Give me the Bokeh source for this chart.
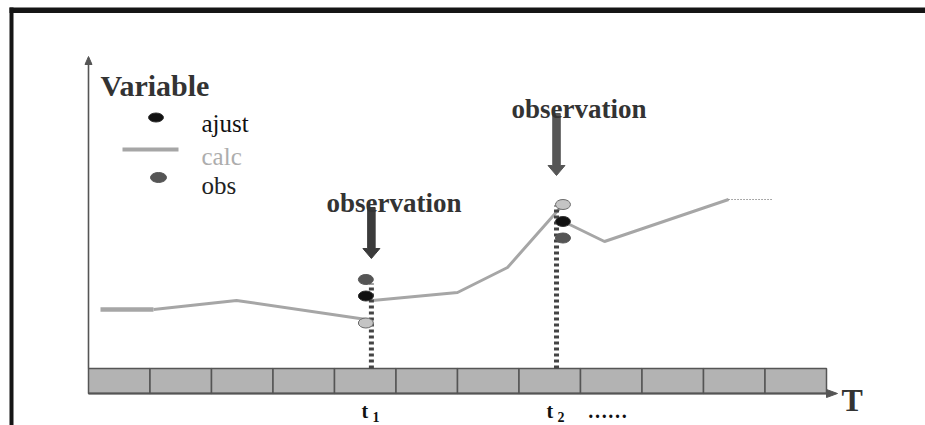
from bokeh.plotting import figure
from bokeh.models import Range1d, Label
from bokeh.embed import file_html
from bokeh.resources import INLINE
from bokeh.core.properties import value

# ---------------- data ----------------
cells = list(range(13))                      # time-cell boundaries along T
obs_times = [4.60, 7.61]                      # observation instants t1, t2
obs_line_tops = [87, 165]                     # top of the dotted drop lines
point_times = [4.51, 7.715]                   # where the three markers sit
ajust_vals = [74.5, 149]
obs_vals = [91, 132.5]
calc_pt_vals = [47.5, 166]
calc_seg1_t = [0.195, 1.057, 2.407, 4.52]
calc_seg1_v = [61, 61, 70, 51]
calc_seg2_t = [4.618, 6.0, 6.813, 7.675]
calc_seg2_v = [70, 78, 103, 163]
calc_seg3_t = [7.756, 8.39, 10.407]
calc_seg3_v = [148, 129, 171]
calc_cont_t = [10.407, 11.138]
calc_cont_v = [171, 171]
tick_main = ["t", "t"]
tick_sub = ["1", "2"]
arrow_tips = [112, 195]
arrow_lengths = [51, 62]
arrow_colors = ["#3b3b3b", "#565656"]

# ------------- layout helpers (page pixel -> data) -------------
PX0, CELL, BASE = 88.0, 61.5, 370.0
def X(px):
    return (px - PX0) / CELL
def Y(py):
    return BASE - py

SERIF = "'Liberation Serif', 'Times New Roman', serif"

p = figure(width=925, height=425,
           x_range=Range1d(X(0), X(925)), y_range=Range1d(Y(425), Y(0)),
           output_backend="svg", toolbar_location=None, min_border=0,
           x_axis_type=None, y_axis_type=None)
p.grid.visible = False
p.outline_line_color = None
p.background_fill_color = "white"
p.border_fill_color = "white"

# frame border
p.quad(left=[X(9)], right=[X(925)], bottom=[Y(12.5)], top=[Y(7)],
       fill_color="#151515", line_color=None)
p.quad(left=[X(9)], right=[X(13)], bottom=[Y(425)], top=[Y(7)],
       fill_color="#151515", line_color=None)

# time bar
p.quad(left=cells[:-1], right=cells[1:], bottom=Y(393), top=Y(368),
       fill_color="#b3b3b3", line_color="#555555", line_width=1.5)
# T axis arrow along bottom of bar
p.line([cells[0], X(829)], [Y(393), Y(393)], line_color="#555555", line_width=2)
p.patch([X(826), X(837), X(826)], [Y(389), Y(393), Y(397)],
        fill_color="#555555", line_color="#555555")
# vertical Variable axis
p.line([0, 0], [Y(368), Y(62)], line_color="#555555", line_width=1.6)
p.patch([X(84.5), X(88), X(91.5)], [Y(64), Y(56), Y(64)],
        fill_color="#555555", line_color="#555555")

# calc line
p.line(calc_seg1_t[:2], calc_seg1_v[:2], line_color="#a6a6a6", line_width=4.5)
p.line(calc_seg1_t[1:], calc_seg1_v[1:], line_color="#a6a6a6", line_width=3)
p.line(calc_seg2_t, calc_seg2_v, line_color="#a6a6a6", line_width=3)
p.line(calc_seg3_t, calc_seg3_v, line_color="#a6a6a6", line_width=3)
p.line(calc_cont_t, calc_cont_v, line_color="#555555", line_width=1.2,
       line_dash="1 2")

# dotted drop lines
p.segment(x0=obs_times, y0=[Y(368)] * 2, x1=obs_times, y1=obs_line_tops,
          line_color="#444444", line_width=5, line_dash="3 3")

# markers
p.ellipse(x=point_times, y=calc_pt_vals, width=15, height=10,
          width_units="screen", height_units="screen",
          fill_color="#c4c4c4", line_color="#6a6a6a", line_width=1)
p.ellipse(x=point_times, y=ajust_vals, width=15, height=10,
          width_units="screen", height_units="screen",
          fill_color="#111111", line_color="#333333", line_width=1)
p.ellipse(x=point_times, y=obs_vals, width=15, height=10,
          width_units="screen", height_units="screen",
          fill_color="#555555", line_color="#555555", line_width=1)

# observation arrows + labels
hw, hh = 3.75 / CELL, 8.5 / CELL
for t, tip, ln, col in zip(obs_times, arrow_tips, arrow_lengths, arrow_colors):
    top = tip + ln
    neck = tip + 10
    p.patch([t - hw, t + hw, t + hw, t + hh, t, t - hh, t - hw],
            [top, top, neck, neck, tip, neck, neck],
            fill_color=col, line_color=col)
    p.add_layout(Label(x=t - 45 / CELL, y=top + 5, text="observation",
                       text_font=SERIF, text_font_size="27px",
                       text_font_style="bold", text_color="#333333",
                       text_baseline="alphabetic"))

# tick labels t1, t2
p.text(x=obs_times, y=Y(410), text=tick_main, x_offset=-10,
       text_font=value(SERIF), text_font_size="20px", text_font_style="bold",
       text_color="#111111", text_baseline="alphabetic", text_align="left")
p.text(x=obs_times, y=Y(416), text=tick_sub, x_offset=1,
       text_font=value(SERIF), text_font_size="14px", text_font_style="bold",
       text_color="#111111", text_baseline="alphabetic", text_align="left")
p.add_layout(Label(x=X(587), y=Y(410), text="……", text_font=SERIF,
                   text_font_size="20px", text_font_style="bold",
                   text_color="#111111", text_baseline="alphabetic"))

# axis titles
p.add_layout(Label(x=X(100), y=Y(85), text="Variable", text_font=SERIF,
                   text_font_size="30px", text_font_style="bold",
                   text_color="#333333", text_baseline="alphabetic"))
p.add_layout(Label(x=X(841), y=Y(399), text="T", text_font=SERIF,
                   text_font_size="32px", text_font_style="bold",
                   text_color="#333333", text_baseline="alphabetic"))

# legend (drawn by hand)
p.ellipse(x=[X(155.5)], y=[Y(117)], width=15, height=9,
          width_units="screen", height_units="screen",
          fill_color="#111111", line_color="#333333")
p.line([X(122), X(178)], [Y(149), Y(149)], line_color="#a6a6a6", line_width=4)
p.ellipse(x=[X(158)], y=[Y(177)], width=16, height=10,
          width_units="screen", height_units="screen",
          fill_color="#555555", line_color="#555555")
for txt, py, col in [("ajust", 123, "#111111"), ("calc", 156, "#adadad"),
                     ("obs", 185, "#222222")]:
    p.add_layout(Label(x=X(201), y=Y(py), text=txt, text_font=SERIF,
                       text_font_size="25px", text_color=col,
                       text_baseline="alphabetic"))

open("out.html", "w").write(file_html(p, INLINE))
